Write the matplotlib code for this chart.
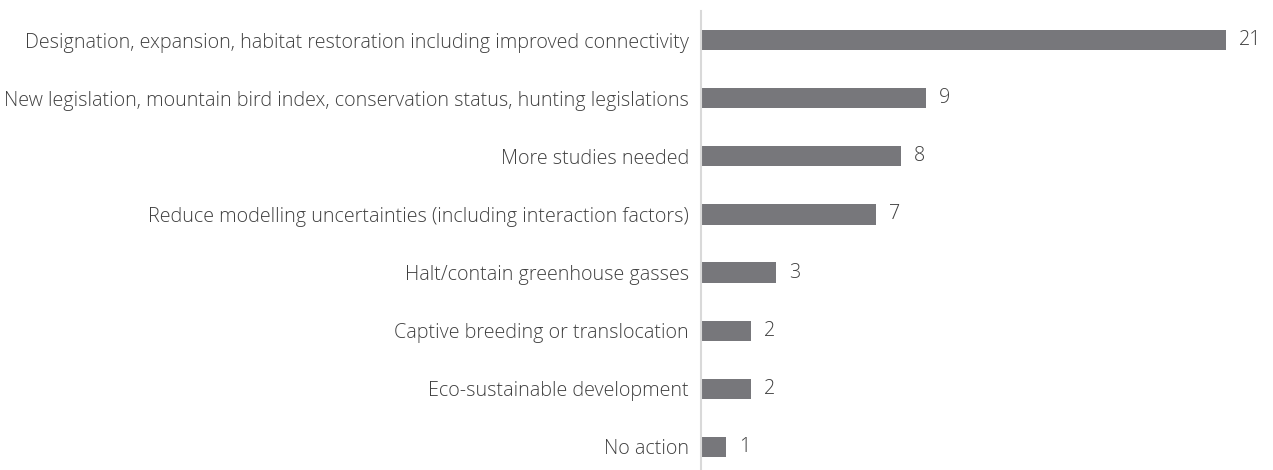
import matplotlib
matplotlib.use('Agg')
import matplotlib.pyplot as plt

# data (top to bottom)
actions = [
    'Designation, expansion, habitat restoration including improved connectivity',
    'New legislation, mountain bird index, conservation status, hunting legislations',
    'More studies needed',
    'Reduce modelling uncertainties (including interaction factors)',
    'Halt/contain greenhouse gasses',
    'Captive breeding or translocation',
    'Eco-sustainable development',
    'No action',
]
counts = [21, 9, 8, 7, 3, 2, 2, 1]

plt.rcParams['font.family'] = ['Open Sans', 'DejaVu Sans']

fig = plt.figure(figsize=(12.73, 4.70), dpi=100)
ax = fig.add_axes([0.551, -0.0128, 0.4415, 0.9894])

ypos = list(range(len(actions)))
ax.barh(ypos, counts, height=0.35, color='#77777b')
for y, v in zip(ypos, counts):
    ax.text(v + 0.5, y, str(v), va='center', ha='left', fontsize=14.2,
            color='#404040', fontweight='light')

ax.set_yticks(ypos)
ax.set_yticklabels(actions, fontsize=14.2, color='#404040', fontweight='light')
ax.set_ylim(len(actions) - 0.5, -0.5)
ax.set_xlim(0, 22.5)
ax.set_xticks([])
ax.tick_params(axis='y', length=0, pad=9)
for s in ['top', 'right', 'bottom']:
    ax.spines[s].set_visible(False)
ax.spines['left'].set_color('#d9d9d9')
ax.spines['left'].set_linewidth(1.5)

fig.savefig('out.png', dpi=100)
